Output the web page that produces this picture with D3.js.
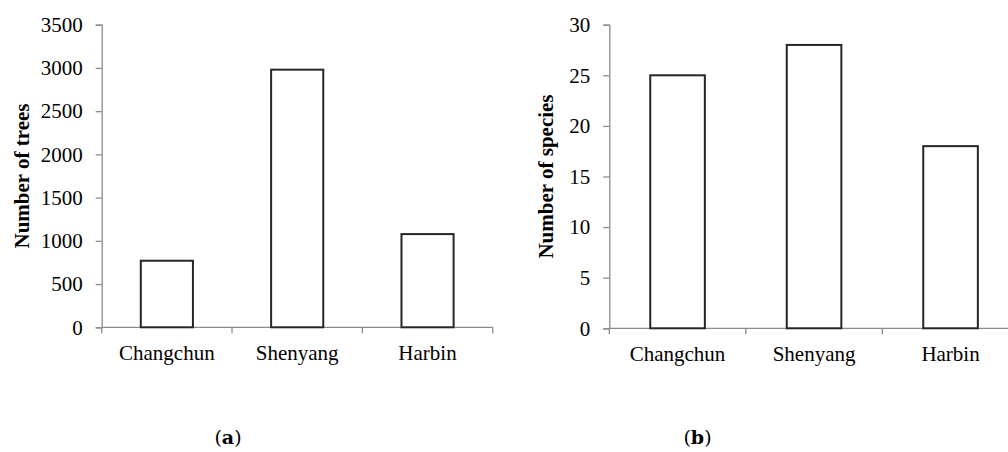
<!DOCTYPE html>
<html><head><meta charset="utf-8">
<script src="https://cdn.jsdelivr.net/npm/d3@7/dist/d3.min.js"></script>
<style>
body{margin:0;background:#fff;}
svg{display:block;}
text{font-family:"Liberation Serif","Times New Roman",serif;fill:#000;}
</style></head>
<body>
<svg id="c" width="1008" height="452"></svg>
<script>
const categories = ["Changchun", "Shenyang", "Harbin"];
const treeCounts = [770, 2980, 1078];
const speciesCounts = [25, 28, 18];
const treeTicks = [0, 500, 1000, 1500, 2000, 2500, 3000, 3500];
const speciesTicks = [0, 5, 10, 15, 20, 25, 30];
const panelLabels = ["a", "b"];

const svg = d3.select("#c");
const axisColor = "#8c8c8c";
const barStroke = "#262626";

function panel(opts) {
  const g = svg.append("g");
  const x = d3.scaleBand().domain(categories).range([opts.x0, opts.x1])
    .paddingInner(0.6).paddingOuter(0.3);
  const y = d3.scaleLinear().domain([0, opts.max]).range([opts.y0, opts.y1]);

  // y axis
  const ya = g.append("g").attr("transform", `translate(${opts.x0},0)`)
    .call(d3.axisLeft(y).tickValues(opts.ticks).tickSize(6).tickPadding(13).tickFormat(d3.format("d")));
  ya.attr("font-family", null).attr("font-size", null);
  ya.select(".domain").attr("stroke", axisColor).attr("stroke-width", 1.3);
  ya.selectAll(".tick line").attr("stroke", axisColor).attr("stroke-width", 1.3);
  ya.selectAll(".tick text").style("font-size", "21px").attr("fill", "#000");

  // x axis
  const xa = g.append("g").attr("transform", `translate(0,${opts.y0})`);
  xa.append("line").attr("x1", opts.x0).attr("x2", Math.min(opts.x1, 1008))
    .attr("y1", 0).attr("y2", 0).attr("stroke", axisColor).attr("stroke-width", 1.3);
  const step = x.step();
  const bounds = d3.range(categories.length + 1).map(i => opts.x0 + i * step);
  xa.selectAll("line.t").data(bounds).join("line").attr("class", "t")
    .attr("x1", d => d).attr("x2", d => d).attr("y1", 0).attr("y2", 6)
    .attr("stroke", axisColor).attr("stroke-width", 1.3);
  xa.selectAll("text").data(categories).join("text")
    .attr("x", d => x(d) + x.bandwidth() / 2).attr("y", 33)
    .attr("text-anchor", "middle").style("font-size", "21px").text(d => d);

  // bars
  g.selectAll("rect").data(opts.values).join("rect")
    .attr("x", (d, i) => x(categories[i]))
    .attr("width", x.bandwidth())
    .attr("y", d => y(d))
    .attr("height", d => y(0) - y(d))
    .attr("fill", "#fff").attr("stroke", barStroke).attr("stroke-width", 2);

  // y title
  g.append("text")
    .attr("transform", `translate(${opts.titleX},${(opts.y0 + opts.y1) / 2}) rotate(-90)`)
    .attr("text-anchor", "middle").style("font-size", "21px").style("font-weight", "bold")
    .text(opts.title);

  // panel label
  const lab = g.append("text").attr("x", opts.labelX).attr("y", 444)
    .attr("text-anchor", "middle").style("font-size", "19px")
    .style("font-family", '"DejaVu Serif", serif');
  lab.append("tspan").text("(");
  lab.append("tspan").style("font-weight", "bold").text(opts.label);
  lab.append("tspan").text(")");
}

panel({x0: 101.7, x1: 492.7, y0: 327.3, y1: 24.7, max: 3500, ticks: treeTicks,
  values: treeCounts, title: "Number of trees", titleX: 28.5, label: panelLabels[0], labelX: 228});
panel({x0: 609.3, x1: 1018.8, y0: 328.3, y1: 24.7, max: 30, ticks: speciesTicks,
  values: speciesCounts, title: "Number of species", titleX: 553, label: panelLabels[1], labelX: 697.5});
</script>
</body></html>
